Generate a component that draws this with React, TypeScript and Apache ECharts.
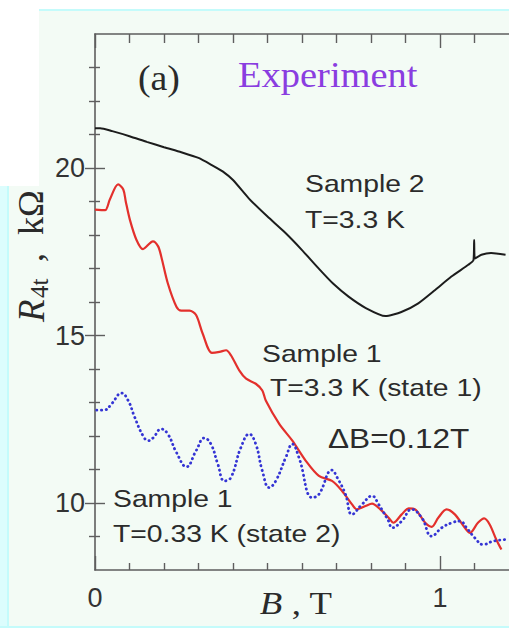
import React, { useEffect, useRef } from "react";
import * as echarts from "echarts";

// ---- data ----
const sample2B = [0, 0.015, 0.05, 0.1, 0.15, 0.2, 0.25, 0.3, 0.34, 0.37, 0.4, 0.447, 0.5, 0.55, 0.6, 0.65, 0.69, 0.735, 0.785, 0.842, 0.888, 0.937, 0.986, 1.033, 1.082, 1.097, 1.099, 1.101, 1.12, 1.148, 1.19];
const sample2R = [21.19, 21.19, 21.1, 20.95, 20.78, 20.62, 20.47, 20.3, 20.08, 19.9, 19.64, 19.08, 18.55, 18.08, 17.55, 16.98, 16.55, 16.16, 15.82, 15.58, 15.7, 15.96, 16.36, 16.76, 17.11, 17.25, 17.85, 17.3, 17.41, 17.46, 17.41];

const state1B = [0, 0.029, 0.043, 0.067, 0.082, 0.089, 0.101, 0.12, 0.139, 0.168, 0.183, 0.192, 0.211, 0.236, 0.25, 0.274, 0.293, 0.312, 0.339, 0.361, 0.38, 0.394, 0.418, 0.438, 0.466, 0.485, 0.495, 0.534, 0.572, 0.611, 0.649, 0.687, 0.716, 0.745, 0.759, 0.784, 0.803, 0.827, 0.851, 0.865, 0.889, 0.909, 0.928, 0.957, 0.976, 0.995, 1.019, 1.043, 1.072, 1.087, 1.11, 1.128, 1.144, 1.163, 1.178];
const state1R = [18.76, 18.74, 19.06, 19.51, 19.36, 19.01, 18.46, 17.86, 17.58, 17.81, 17.66, 17.36, 16.56, 15.86, 15.74, 15.74, 15.61, 15.06, 14.48, 14.51, 14.56, 14.41, 13.96, 13.71, 13.56, 13.36, 13.06, 12.36, 11.86, 11.26, 10.81, 10.66, 10.36, 9.96, 9.81, 9.91, 9.98, 9.81, 9.56, 9.41, 9.66, 9.84, 9.81, 9.41, 9.29, 9.56, 9.81, 9.66, 9.26, 9.11, 9.41, 9.54, 9.36, 8.91, 8.61];

const state2B = [0.005, 0.029, 0.048, 0.077, 0.096, 0.115, 0.139, 0.154, 0.168, 0.192, 0.211, 0.236, 0.265, 0.293, 0.317, 0.336, 0.356, 0.375, 0.394, 0.423, 0.447, 0.466, 0.485, 0.505, 0.524, 0.553, 0.572, 0.591, 0.63, 0.649, 0.687, 0.702, 0.726, 0.745, 0.774, 0.803, 0.822, 0.851, 0.861, 0.889, 0.918, 0.947, 0.976, 1.005, 1.034, 1.058, 1.077, 1.101, 1.125, 1.154, 1.188];
const state2R = [12.77, 12.78, 12.96, 13.28, 13.06, 12.56, 12.01, 11.86, 11.94, 12.21, 12.06, 11.51, 11.08, 11.56, 11.94, 11.76, 11.16, 10.66, 10.76, 11.66, 12.06, 11.76, 10.96, 10.46, 10.66, 11.36, 11.76, 11.36, 10.16, 10.26, 10.98, 10.76, 10.26, 9.66, 9.96, 10.21, 9.96, 9.46, 9.26, 9.46, 9.81, 9.56, 9.01, 9.26, 9.41, 9.46, 9.26, 8.96, 8.76, 8.86, 8.91];

const xMajorTicks = [0, 1];
const xMinorTicks = [0.1, 0.2, 0.3, 0.4, 0.5, 0.6, 0.7, 0.8, 0.9, 1.1];
const yMajorTicks = [10, 15, 20];
const yMinorTicks = [9, 11, 12, 13, 14, 16, 17, 18, 19, 21, 22, 23];

const zip = (a: number[], b: number[]) => a.map((v, i) => [v, b[i]]);

const AXIS = "#5e5e5e";
const TXT = "#2b2b2b";
const SANS = "'Liberation Sans', Arial, sans-serif";
const SERIF = "'Liberation Serif', 'Times New Roman', serif";

const GRID = { left: 95, top: 34, width: 416, height: 536 };

function xAxisDef(grid: number, position: string, ticks: number[], len: number, line: boolean, label: boolean) {
  return {
    type: "value", gridIndex: grid, position, min: 0, max: 1.2,
    axisLine: { show: line, lineStyle: { color: AXIS, width: 1.6 } },
    axisTick: { show: true, inside: true, length: len, customValues: ticks, lineStyle: { color: AXIS, width: 1.4 } },
    axisLabel: {
      show: label, customValues: xMajorTicks, margin: 14, color: "#333",
      fontFamily: SANS, fontSize: 27, formatter: (v: number) => String(v),
    },
    splitLine: { show: false },
  };
}

function yAxisDef(grid: number, position: string, ticks: number[], len: number, line: boolean, label: boolean) {
  return {
    type: "value", gridIndex: grid, position, min: 8, max: 24,
    axisLine: { show: line, lineStyle: { color: AXIS, width: 1.6 } },
    axisTick: { show: true, inside: true, length: len, customValues: ticks, lineStyle: { color: AXIS, width: 1.4 } },
    axisLabel: {
      show: label, customValues: yMajorTicks, margin: 10, color: "#333",
      fontFamily: SANS, fontSize: 27, formatter: (v: number) => String(v),
    },
    splitLine: { show: false },
  };
}

function sansText(text: string, x: number, y: number, size = 24, sx = 1.18) {
  return {
    type: "text", x, y, scaleX: sx, z: 50,
    style: { text, fill: TXT, font: `${size}px ${SANS}`, textAlign: "left", textVerticalAlign: "middle" },
  };
}

export default function App() {
  const ref = useRef<HTMLDivElement>(null);
  useEffect(() => {
    if (!ref.current) return;
    const chart = echarts.init(ref.current, undefined, { renderer: "svg" });
    chart.setOption({
      animation: false,
      backgroundColor: "#f3fbf5",
      grid: [
        { ...GRID, containLabel: false },
        { ...GRID, containLabel: false },
      ],
      xAxis: [
        xAxisDef(0, "bottom", xMajorTicks, 14, true, true),
        xAxisDef(0, "top", xMajorTicks, 14, true, false),
        xAxisDef(1, "bottom", xMinorTicks, 7, false, false),
        xAxisDef(1, "top", xMinorTicks, 9, false, false),
      ],
      yAxis: [
        yAxisDef(0, "left", yMajorTicks, 10, true, true),
        yAxisDef(0, "right", yMajorTicks, 10, false, false),
        yAxisDef(1, "left", yMinorTicks, 5, false, false),
        yAxisDef(1, "right", yMinorTicks, 6, false, false),
      ],
      series: [
        {
          type: "line", name: "Sample 2, T=3.3 K", xAxisIndex: 0, yAxisIndex: 0,
          data: zip(sample2B, sample2R), showSymbol: false, smooth: 0.2,
          lineStyle: { color: "#1c1c1c", width: 2 },
        },
        {
          type: "line", name: "Sample 1, T=3.3 K (state 1)", xAxisIndex: 0, yAxisIndex: 0,
          data: zip(state1B, state1R), showSymbol: false, smooth: 0.3,
          lineStyle: { color: "#e3302c", width: 2.2 },
        },
        {
          type: "line", name: "Sample 1, T=0.33 K (state 2)", xAxisIndex: 0, yAxisIndex: 0,
          data: zip(state2B, state2R), showSymbol: false, smooth: 0.45,
          lineStyle: { color: "#3434d4", width: 2.8, type: [0.3, 4.4], cap: "round" },
        },
      ],
      graphic: [
        // page frame
        { type: "rect", z: 1, shape: { x: 0, y: 0, width: 509, height: 9 }, style: { fill: "#ffffff" } },
        { type: "rect", z: 1, shape: { x: 0, y: 0, width: 39, height: 186 }, style: { fill: "#ffffff" } },
        { type: "rect", z: 1, shape: { x: 39, y: 9, width: 470, height: 2 }, style: { fill: "#c4fbfb" } },
        { type: "rect", z: 1, shape: { x: 0, y: 186, width: 8, height: 442 }, style: { fill: "#dcfdfd" } },
        { type: "rect", z: 1, shape: { x: 7, y: 186, width: 2, height: 442 }, style: { fill: "#c4fbfb" } },
        { type: "rect", z: 1, shape: { x: 0, y: 626, width: 509, height: 2 }, style: { fill: "#c4fbfb" } },
        // titles
        {
          type: "text", x: 138, y: 78, scaleX: 1.08, z: 50,
          style: { text: "(a)", fill: "#2a2a2a", font: `35px ${SERIF}`, textAlign: "left", textVerticalAlign: "middle" },
        },
        {
          type: "text", x: 238, y: 75, scaleX: 1.1, z: 50,
          style: { text: "Experiment", fill: "#8a3de0", font: `35px ${SERIF}`, textAlign: "left", textVerticalAlign: "middle" },
        },
        // annotations
        sansText("Sample 2", 305, 184),
        sansText("T=3.3 K", 305, 220),
        sansText("Sample 1", 262, 354),
        sansText("T=3.3 K (state 1)", 270, 388),
        sansText("ΔB=0.12T", 328, 438, 27, 1.17),
        sansText("Sample 1", 113, 499),
        sansText("T=0.33 K (state 2)", 113, 534),
        // x axis name
        {
          type: "text", x: 296, y: 603, scaleX: 1.15, z: 50,
          style: {
            text: "{i|B}{n| , T}", fill: "#2a2a2a", textAlign: "center", textVerticalAlign: "middle",
            rich: {
              i: { fontFamily: SERIF, fontStyle: "italic", fontSize: 32, fill: "#2a2a2a" },
              n: { fontFamily: SERIF, fontSize: 32, fill: "#2a2a2a" },
            },
          },
        },
        // y axis name (rotated)
        {
          type: "group", x: 31, y: 258, rotation: Math.PI / 2, z: 50,
          children: [
            { type: "text", x: -64, y: 0, style: { text: "R", fill: "#2a2a2a", font: `italic 37px ${SERIF}`, textAlign: "left", textVerticalAlign: "middle" } },
            { type: "text", x: -40, y: 8, style: { text: "4t", fill: "#2a2a2a", font: `25px ${SERIF}`, textAlign: "left", textVerticalAlign: "middle" } },
            { type: "text", x: -4, y: 0, style: { text: ",  kΩ", fill: "#2a2a2a", font: `36px ${SERIF}`, textAlign: "left", textVerticalAlign: "middle" } },
          ],
        },
      ],
    });
    return () => chart.dispose();
  }, []);
  return (
    <div
      ref={ref}
      style={{ position: "absolute", left: 0, top: 0, width: 509, height: 628 }}
    />
  );
}
